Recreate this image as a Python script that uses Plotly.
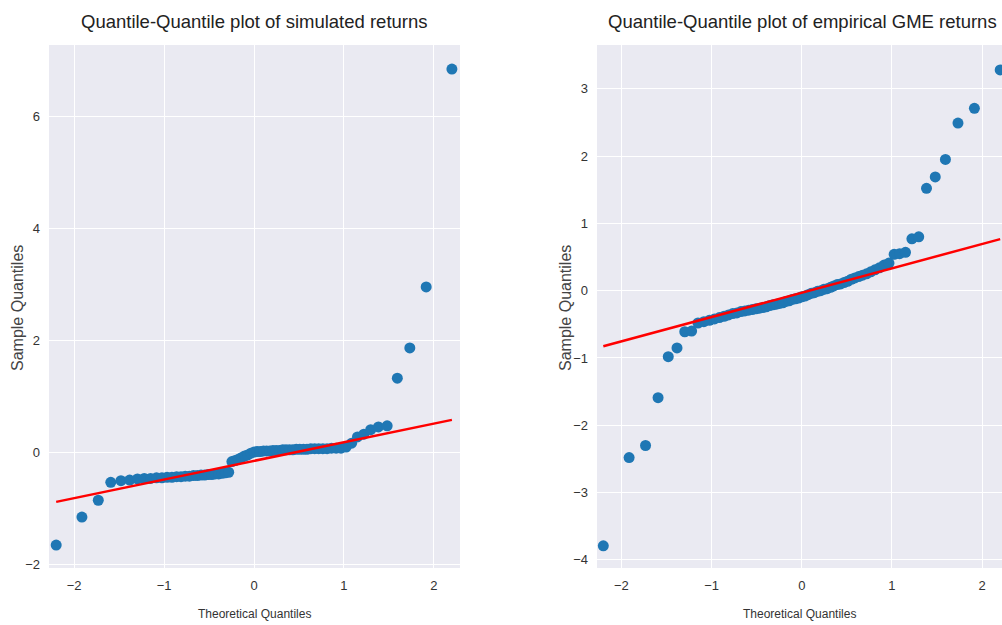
import plotly.graph_objects as go

# Theoretical normal quantiles (n = 71)
theoretical = [-2.200, -1.914, -1.732, -1.593, -1.480, -1.383, -1.297, -1.221, -1.150, -1.085,
               -1.024, -0.967, -0.913, -0.861, -0.812, -0.765, -0.719, -0.674, -0.631, -0.589,
               -0.549, -0.508, -0.469, -0.431, -0.393, -0.355, -0.319, -0.282, -0.246, -0.210,
               -0.175, -0.140, -0.105, -0.070, -0.035, 0.000, 0.035, 0.070, 0.105, 0.140,
               0.175, 0.210, 0.246, 0.282, 0.319, 0.355, 0.393, 0.431, 0.469, 0.508,
               0.549, 0.589, 0.631, 0.674, 0.719, 0.765, 0.812, 0.861, 0.913, 0.967,
               1.024, 1.085, 1.150, 1.221, 1.297, 1.383, 1.480, 1.593, 1.732, 1.914, 2.200]

simulated = [-1.66, -1.16, -0.86, -0.54, -0.51, -0.50, -0.48, -0.47, -0.47, -0.46,
             -0.46, -0.45, -0.45, -0.44, -0.44, -0.43, -0.43, -0.42, -0.42, -0.41,
             -0.41, -0.40, -0.40, -0.39, -0.39, -0.38, -0.37, -0.36, -0.17, -0.15,
             -0.13, -0.10, -0.07, -0.05, -0.02, 0.00, 0.01, 0.01, 0.02, 0.02,
             0.02, 0.03, 0.03, 0.03, 0.04, 0.04, 0.04, 0.04, 0.05, 0.05,
             0.05, 0.05, 0.06, 0.06, 0.06, 0.06, 0.06, 0.07, 0.07, 0.07,
             0.09, 0.16, 0.27, 0.32, 0.40, 0.45, 0.47, 1.32, 1.86, 2.95, 6.84]

empirical = [-3.79, -2.48, -2.30, -1.59, -0.98, -0.85, -0.61, -0.60, -0.48, -0.46,
             -0.44, -0.42, -0.40, -0.38, -0.36, -0.34, -0.33, -0.31, -0.30, -0.29,
             -0.28, -0.27, -0.26, -0.25, -0.24, -0.22, -0.21, -0.20, -0.19, -0.18,
             -0.16, -0.15, -0.13, -0.12, -0.11, -0.09, -0.08, -0.06, -0.04, -0.03,
             -0.01, 0.00, 0.02, 0.03, 0.05, 0.07, 0.09, 0.10, 0.12, 0.14,
             0.17, 0.19, 0.21, 0.23, 0.25, 0.28, 0.31, 0.34, 0.38, 0.41,
             0.54, 0.55, 0.57, 0.77, 0.80, 1.52, 1.69, 1.95, 2.49, 2.71, 3.28]

# Reference line parameters (intercept, slope)
sim_line = (-0.157, 0.333)
emp_line = (-0.03, 0.362)

titles = ["Quantile-Quantile plot of simulated returns",
          "Quantile-Quantile plot of empirical GME returns"]
x_label = "Theoretical Quantiles"
y_label = "Sample Quantiles"

left_yticks = [-2, 0, 2, 4, 6]
right_yticks = [-4, -3, -2, -1, 0, 1, 2, 3]
xticks = [-2, -1, 0, 1, 2]

W, H = 1002, 625
L, R, T, B = 49, 0, 45, 57
pw = W - L - R
ph = H - T - B

def px_x(p):
    return (p - L) / pw

def px_y(p):
    return (H - B - p) / ph

blue = "#1f77b4"
font = "Liberation Sans, Arial, sans-serif"

fig = go.Figure()

for i, (ys, ln) in enumerate([(simulated, sim_line), (empirical, emp_line)]):
    xa = "x" if i == 0 else "x2"
    ya = "y" if i == 0 else "y2"
    fig.add_trace(go.Scatter(x=theoretical, y=ys, mode="markers", xaxis=xa, yaxis=ya,
                             marker=dict(color=blue, size=11, line=dict(width=0)),
                             showlegend=False))
    lx = [theoretical[0], theoretical[-1]]
    ly = [ln[0] + ln[1] * v for v in lx]
    fig.add_trace(go.Scatter(x=lx, y=ly, mode="lines", xaxis=xa, yaxis=ya,
                             line=dict(color="#ff0000", width=2.5), showlegend=False))

axis_common = dict(showgrid=True, gridcolor="white", gridwidth=1.3, zeroline=False,
                   showline=False, ticks="", ticklabelstandoff=8,
                   tickfont=dict(family=font, size=13, color="#333333"))

def lbl(vals):
    return [str(v).replace("-", "\u2212") for v in vals]

fig.update_layout(
    width=W, height=H,
    margin=dict(l=L, r=R, t=T, b=B, pad=0),
    paper_bgcolor="white", plot_bgcolor="#EAEAF2",
    xaxis=dict(domain=[0, px_x(460)], range=[-2.28, 2.29], tickvals=xticks,
               ticktext=lbl(xticks), anchor="y", **axis_common),
    yaxis=dict(domain=[0, 1], range=[-2.07, 7.27], tickvals=left_yticks,
               ticktext=lbl(left_yticks), anchor="x", **axis_common),
    xaxis2=dict(domain=[px_x(597), 1], range=[-2.27, 2.22], tickvals=xticks,
                ticktext=lbl(xticks), anchor="y2", **axis_common),
    yaxis2=dict(domain=[0, 1], range=[-4.12, 3.65], tickvals=right_yticks,
                ticktext=lbl(right_yticks), anchor="x2", **axis_common),
)

ann = []
for cx, t in [(254.5, titles[0]), (802, titles[1])]:
    ann.append(dict(text=t, x=px_x(cx), y=px_y(22), xref="paper", yref="paper",
                    xanchor="center", yanchor="middle", showarrow=False,
                    font=dict(family=font, size=18.5, color="#222222")))
for cx in [254.5, 799.5]:
    ann.append(dict(text=x_label, x=px_x(cx), y=px_y(614), xref="paper", yref="paper",
                    xanchor="center", yanchor="middle", showarrow=False,
                    font=dict(family=font, size=12, color="#333333")))
for cx in [17, 565]:
    ann.append(dict(text=y_label, x=px_x(cx), y=px_y(308), xref="paper", yref="paper",
                    xanchor="center", yanchor="middle", showarrow=False, textangle=-90,
                    font=dict(family=font, size=16, color="#444444")))
fig.update_layout(annotations=ann)

fig.write_html("out.html")
